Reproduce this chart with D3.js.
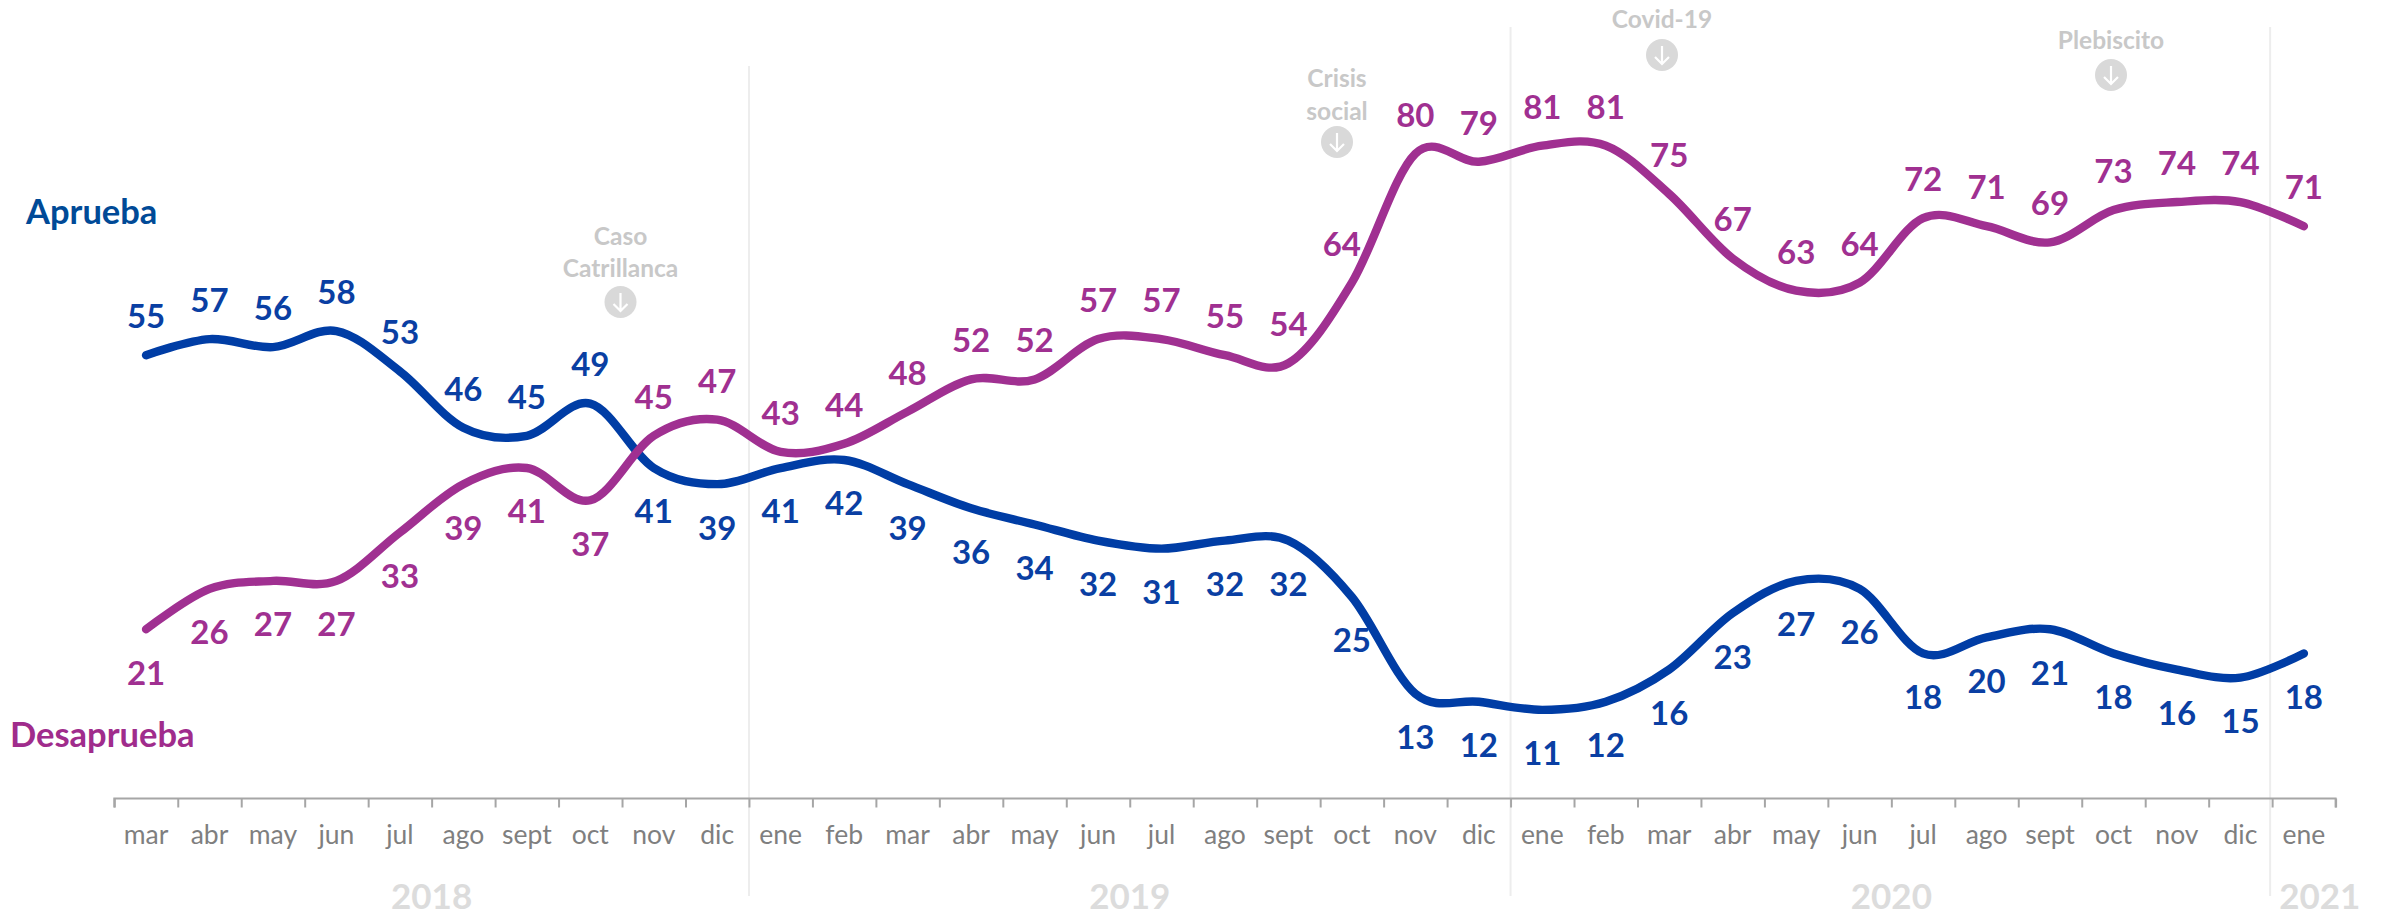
<!DOCTYPE html>
<html><head><meta charset="utf-8">
<script src="https://cdn.jsdelivr.net/npm/d3@7/dist/d3.min.js"></script>
<style>html,body{margin:0;padding:0;background:#fff;overflow:hidden}svg{display:block}text{font-family:Lato,"Open Sans",sans-serif}</style>
</head><body><svg id="c" width="2394" height="917"></svg>
<script>
const months = ["mar","abr","may","jun","jul","ago","sept","oct","nov","dic",
  "ene","feb","mar","abr","may","jun","jul","ago","sept","oct","nov","dic",
  "ene","feb","mar","abr","may","jun","jul","ago","sept","oct","nov","dic","ene"];
const aprueba = [55,57,56,58,53,46,45,49,41,39,41,42,39,36,34,32,31,32,32,25,13,12,11,12,16,23,27,26,18,20,21,18,16,15,18];
const desaprueba = [21,26,27,27,33,39,41,37,45,47,43,44,48,52,52,57,57,55,54,64,80,79,81,81,75,67,63,64,72,71,69,73,74,74,71];
const years = ["2018","2019","2020","2021"];
const yearSpans = [[0,10],[10,22],[22,34],[34,35.5]];
const yearDividers = [10,22,34];
const eventLines = [["Caso","Catrillanca"],["Crisis","social"],["Covid-19"],["Plebiscito"]];

const svg=d3.select("#c");
const x=d3.scaleLinear().domain([0,35]).range([114.3,2335.6]);
const cx=i=>x(i+0.5);
const y=d3.scaleLinear().domain([0,90]).range([798.5,73.1]);
const BLUE="#003DA5",PURPLE="#A03091",LBLUE="#0A3FA3",LPURPLE="#A03091";

// year dividers
const dividerTop=[66,27,27], dividerBottom=[896,896,896];
svg.selectAll("line.div").data(yearDividers).join("line").attr("class","div")
  .attr("x1",(d,i)=>x(d)-(i==2?2:0)).attr("x2",(d,i)=>x(d)-(i==2?2:0))
  .attr("y1",(d,i)=>dividerTop[i]).attr("y2",(d,i)=>dividerBottom[i])
  .attr("stroke","#ededed").attr("stroke-width",2);

// axis
const axis=svg.append("g").attr("transform",`translate(0,${y(0)})`)
  .call(d3.axisBottom(x).tickValues(d3.range(36)).tickSize(9).tickFormat(""));
axis.selectAll("path,line").attr("stroke","#a6a6a6").attr("stroke-width",2);
axis.select("path").attr("d",`M${x(0)},9V0H${x(35)}V9`).attr("fill","none");
svg.selectAll("text.m").data(months).join("text").attr("class","m")
  .attr("x",(d,i)=>cx(i)).attr("y",844).attr("text-anchor","middle")
  .attr("font-size",26.5).attr("fill","#7f7f7f").text(d=>d);
svg.selectAll("text.yr").data(years).join("text").attr("class","yr")
  .attr("x",(d,i)=>x((yearSpans[i][0]+yearSpans[i][1])/2)).attr("y",909)
  .attr("text-anchor","middle").attr("font-size",35).attr("font-weight",700)
  .attr("fill","#dcdcdc").text(d=>d);

// lines
const line=d3.line().x((d,i)=>cx(i)).y(d=>y(d)).curve(d3.curveCatmullRom.alpha(0));
[[aprueba,BLUE],[desaprueba,PURPLE]].forEach(([s,c])=>{
  svg.append("path").attr("d",line(s)).attr("fill","none").attr("stroke",c)
    .attr("stroke-width",8.4).attr("stroke-linecap","round").attr("stroke-linejoin","round");
});

// value labels
const flip=8;
const labels=(s,c,aboveFirst)=>svg.append("g").selectAll("text").data(s).join("text")
  .attr("x",(d,i)=>cx(i)-((c===LPURPLE&&i===19)?10:0))
  .attr("y",(d,i)=>{const above=aboveFirst?i<flip:i>=flip;return y(d)+(above?-39:43.5);})
  .attr("dy","0.36em").attr("text-anchor","middle").attr("font-size",33).attr("font-weight",700)
  .attr("fill",c).text(d=>d);
labels(aprueba,LBLUE,true);
labels(desaprueba,LPURPLE,false);

// legends
svg.append("text").attr("x",26).attr("y",224).attr("font-size",34.5).attr("font-weight",700).attr("fill","#004A97").text("Aprueba");
svg.append("text").attr("x",10).attr("y",747).attr("font-size",34.5).attr("font-weight",700).attr("fill","#A02C8C").text("Desaprueba");

// events
const eventPos=[{x:620.5,ys:[236,268],cy:302},{x:1337,ys:[78,111],cy:142},{x:1662,ys:[19],cy:55},{x:2111,ys:[40],cy:75}];
eventLines.forEach((lines,k)=>{
  const p=eventPos[k];
  const g=svg.append("g");
  lines.forEach((t,i)=>g.append("text").attr("x",p.x).attr("y",p.ys[i]).attr("dy","0.36em")
    .attr("text-anchor","middle").attr("font-size",24.5).attr("font-weight",700).attr("fill","#c8c8c8").text(t));
  g.append("circle").attr("cx",p.x).attr("cy",p.cy).attr("r",16).attr("fill","#d9d9d9");
  g.append("path").attr("d",`M${p.x},${p.cy-9}V${p.cy+9}M${p.x-7},${p.cy+2}L${p.x},${p.cy+9}L${p.x+7},${p.cy+2}`)
    .attr("fill","none").attr("stroke","#fff").attr("stroke-width",2.2);
});
</script></body></html>
